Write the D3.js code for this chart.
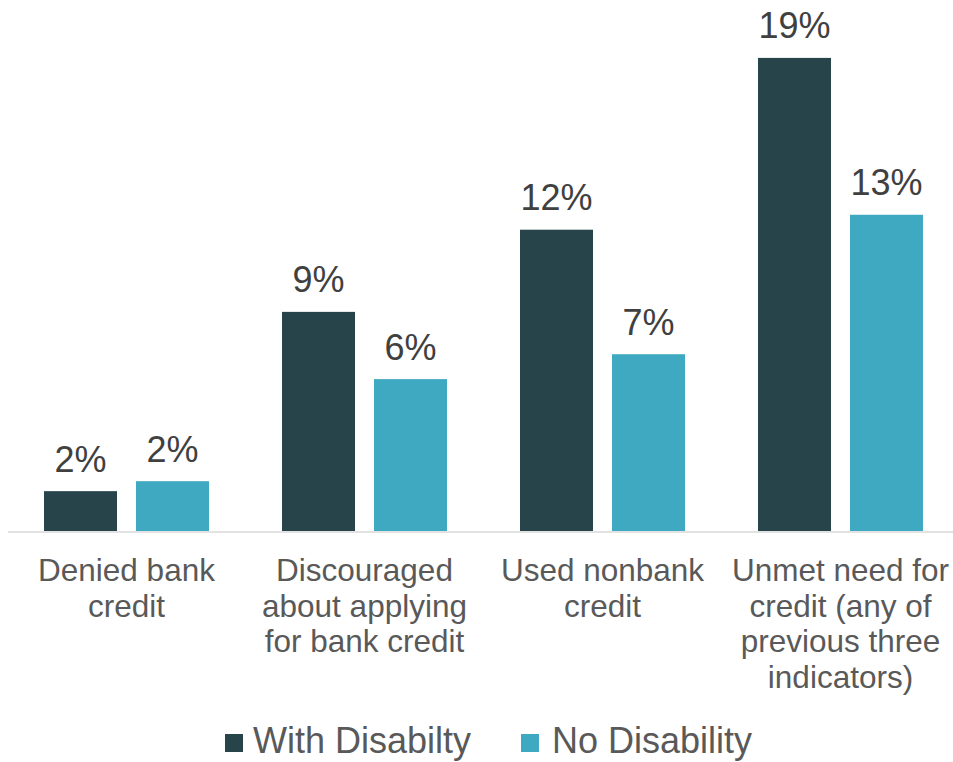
<!DOCTYPE html>
<html>
<head>
<meta charset="utf-8">
<script src="https://cdn.jsdelivr.net/npm/d3@7"></script>
<style>
  html, body { margin: 0; padding: 0; background: #ffffff; }
  svg { display: block; font-family: "Liberation Sans", Arial, Helvetica, sans-serif; }
</style>
</head>
<body>
<svg id="chart" width="953" height="762"></svg>
<script>
// Credit access indicators by disability status
const categories = [
  "Denied bank credit",
  "Discouraged about applying for bank credit",
  "Used nonbank credit",
  "Unmet need for credit (any of previous three indicators)"
];
// Wrapped label lines for each category
const categoryLines = [
  ["Denied bank", "credit"],
  ["Discouraged", "about applying", "for bank credit"],
  ["Used nonbank", "credit"],
  ["Unmet need for", "credit (any of", "previous three", "indicators)"]
];
const seriesNames = ["With Disabilty", "No Disability"];
const withDisability = [0.016, 0.088, 0.121, 0.190];
const noDisability   = [0.020, 0.061, 0.071, 0.127];
const seriesColors = ["#27444A", "#3FA9C1"];

const series = [withDisability, noDisability];

const svg = d3.select("#chart");
const width = 953;
const baseline = 531;

const x0 = d3.scaleBand()
  .domain(categories)
  .range([7.5, 959.5])
  .paddingInner(0)
  .paddingOuter(0);

const x1 = d3.scaleBand()
  .domain(seriesNames)
  .range([0, x0.bandwidth()])
  .paddingInner(19 / 92)
  .paddingOuter(0.3967);

const y = d3.scaleLinear()
  .domain([0, 0.20])
  .range([baseline, 33]);

const color = d3.scaleOrdinal().domain(seriesNames).range(seriesColors);
const pct = d3.format(".0%");

// Flatten into one record per bar
const bars = [];
categories.forEach((c, i) => {
  seriesNames.forEach((s, j) => {
    bars.push({ category: c, series: s, value: series[j][i] });
  });
});

// Bars
svg.append("g")
  .selectAll("rect")
  .data(bars)
  .join("rect")
  .attr("x", d => x0(d.category) + x1(d.series))
  .attr("y", d => y(d.value))
  .attr("width", x1.bandwidth())
  .attr("height", d => y(0) - y(d.value))
  .attr("fill", d => color(d.series));

// Value labels above bars
svg.append("g")
  .selectAll("text")
  .data(bars)
  .join("text")
  .attr("x", d => x0(d.category) + x1(d.series) + x1.bandwidth() / 2)
  .attr("y", d => y(d.value) - 19.5)
  .attr("text-anchor", "middle")
  .attr("font-size", 36)
  .attr("fill", "#404040")
  .text(d => pct(d.value));

// Category axis (baseline only, no ticks)
const xAxis = svg.append("g")
  .attr("transform", `translate(0,${baseline + 0.5})`)
  .call(d3.axisBottom(x0).tickSize(0).tickFormat(""));
xAxis.select(".domain")
  .attr("stroke", "#D9D9D9")
  .attr("stroke-width", 1.5);
xAxis.selectAll(".tick text").remove();

// Wrapped category labels
const catLabels = svg.append("g")
  .selectAll("text")
  .data(categories)
  .join("text")
  .attr("x", d => x0(d) + x0.bandwidth() / 2)
  .attr("y", 581)
  .attr("text-anchor", "middle")
  .attr("font-size", 31.5)
  .attr("fill", "#595959");
catLabels.each(function(d, i) {
  const t = d3.select(this);
  categoryLines[i].forEach((line, k) => {
    t.append("tspan")
      .attr("x", x0(d) + x0.bandwidth() / 2)
      .attr("y", 581 + k * 35.5)
      .text(line);
  });
});

// Legend
const legendItems = [
  { name: seriesNames[0], sx: 225, tx: 253 },
  { name: seriesNames[1], sx: 521, tx: 552 }
];
const legend = svg.append("g");
legendItems.forEach(item => {
  legend.append("rect")
    .attr("x", item.sx)
    .attr("y", 734)
    .attr("width", 18)
    .attr("height", 18)
    .attr("fill", color(item.name));
  legend.append("text")
    .attr("x", item.tx)
    .attr("y", 752.5)
    .attr("font-size", 36)
    .attr("fill", "#595959")
    .text(item.name);
});
</script>
</body>
</html>
